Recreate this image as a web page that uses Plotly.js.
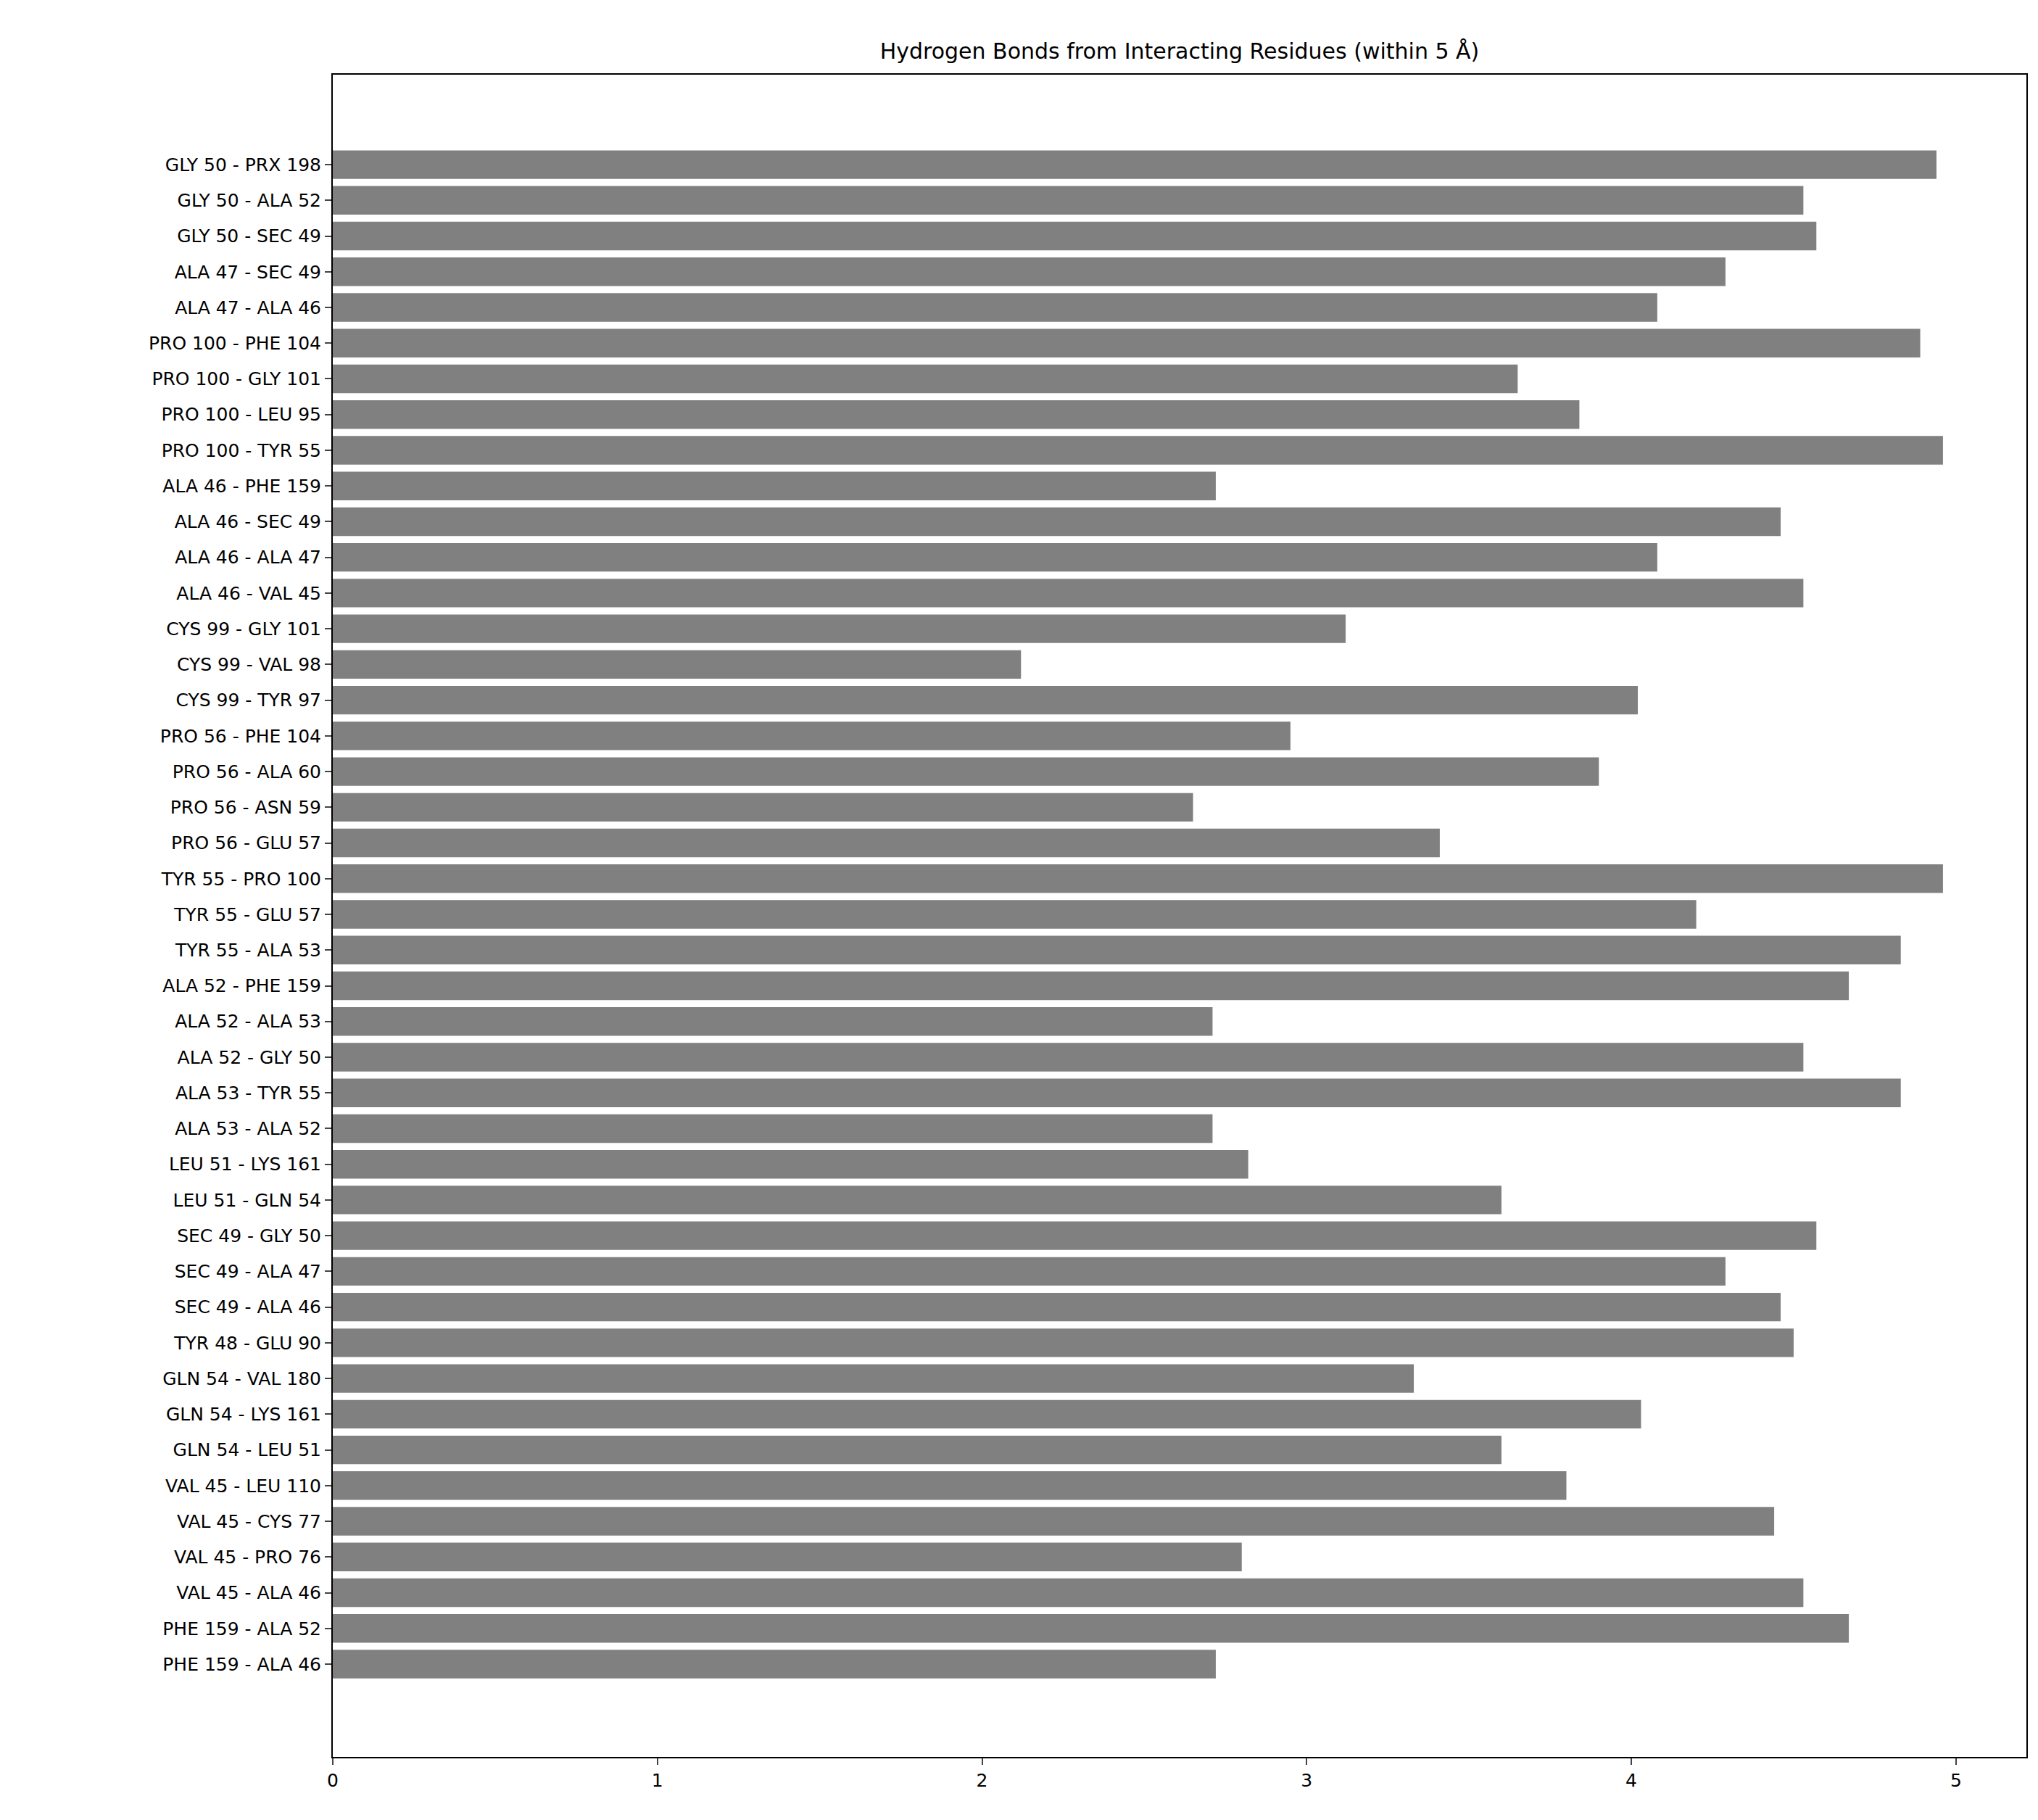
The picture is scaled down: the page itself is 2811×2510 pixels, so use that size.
<!DOCTYPE html>
<html>
<head>
<meta charset="utf-8">
<script src="https://cdn.plot.ly/plotly-3.0.1.min.js"></script>
<style>body{margin:0;background:#fff}#chart{width:2811px;height:2510px}</style>
</head>
<body>
<div id="chart"></div>
<script>
// bottom to top
const pairs = [
  "PHE 159 - ALA 46", "PHE 159 - ALA 52", "VAL 45 - ALA 46", "VAL 45 - PRO 76",
  "VAL 45 - CYS 77", "VAL 45 - LEU 110", "GLN 54 - LEU 51", "GLN 54 - LYS 161",
  "GLN 54 - VAL 180", "TYR 48 - GLU 90", "SEC 49 - ALA 46", "SEC 49 - ALA 47",
  "SEC 49 - GLY 50", "LEU 51 - GLN 54", "LEU 51 - LYS 161", "ALA 53 - ALA 52",
  "ALA 53 - TYR 55", "ALA 52 - GLY 50", "ALA 52 - ALA 53", "ALA 52 - PHE 159",
  "TYR 55 - ALA 53", "TYR 55 - GLU 57", "TYR 55 - PRO 100", "PRO 56 - GLU 57",
  "PRO 56 - ASN 59", "PRO 56 - ALA 60", "PRO 56 - PHE 104", "CYS 99 - TYR 97",
  "CYS 99 - VAL 98", "CYS 99 - GLY 101", "ALA 46 - VAL 45", "ALA 46 - ALA 47",
  "ALA 46 - SEC 49", "ALA 46 - PHE 159", "PRO 100 - TYR 55", "PRO 100 - LEU 95",
  "PRO 100 - GLY 101", "PRO 100 - PHE 104", "ALA 47 - ALA 46", "ALA 47 - SEC 49",
  "GLY 50 - SEC 49", "GLY 50 - ALA 52", "GLY 50 - PRX 198"
];
const distances = [
  2.72, 4.67, 4.53, 2.80, 4.44, 3.80, 3.60, 4.03,
  3.33, 4.50, 4.46, 4.29, 4.57, 3.60, 2.82, 2.71,
  4.83, 4.53, 2.71, 4.67, 4.83, 4.20, 4.96, 3.41,
  2.65, 3.90, 2.95, 4.02, 2.12, 3.12, 4.53, 4.08,
  4.46, 2.72, 4.96, 3.84, 3.65, 4.89, 4.08, 4.29,
  4.57, 4.53, 4.94
];
const xTicks = [0, 1, 2, 3, 4, 5];

const trace = {
  type: "bar",
  orientation: "h",
  x: distances,
  y: pairs,
  width: 0.8,
  marker: { color: "#808080", line: { width: 0 } },
  hoverinfo: "x+y",
};

const layout = {
  width: 2811,
  height: 2510,
  paper_bgcolor: "white",
  plot_bgcolor: "white",
  font: { family: "DejaVu Sans, sans-serif", size: 25, color: "black" },
  title: {
    text: "Hydrogen Bonds from Interacting Residues (within 5 Å)",
    font: { size: 30 },
    x: 0.5, xref: "paper", y: 0.972, yanchor: "middle",
  },
  margin: { l: 459, r: 16, t: 103, b: 87 },
  xaxis: {
    range: [0, 5.217],
    tickvals: xTicks,
    ticks: "outside", ticklen: 9, tickwidth: 2,
    showgrid: false, zeroline: false,
    showline: true, linecolor: "black", linewidth: 2, mirror: true,
  },
  yaxis: {
    type: "category",
    categoryorder: "array",
    categoryarray: pairs,
    range: [-2.6, 44.52],
    ticks: "outside", ticklen: 9, tickwidth: 2,
    showgrid: false, zeroline: false,
    showline: true, linecolor: "black", linewidth: 2, mirror: true,
  },
  showlegend: false,
};

Plotly.newPlot("chart", [trace], layout, { displayModeBar: false });
</script>
</body>
</html>
